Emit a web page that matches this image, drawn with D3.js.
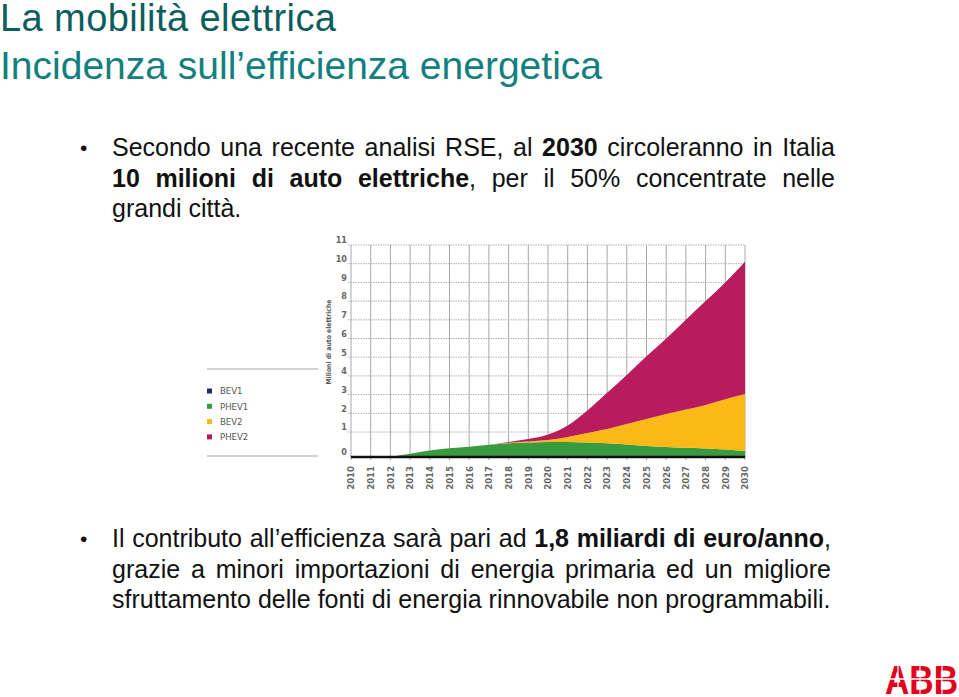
<!DOCTYPE html>
<html>
<head>
<meta charset="utf-8">
<script src="https://cdn.jsdelivr.net/npm/d3@7"></script>
<style>
  body { margin: 0; background: #fff; }
  svg { display: block; }
</style>
</head>
<body>
<div id="slide"></div>
<script>
const years = d3.range(2010, 2031);
const seriesNames = ["BEV1", "PHEV1", "BEV2", "PHEV2"];
const seriesColors = ["#1f2d6e", "#3a9a3f", "#fbb917", "#b81c5c"];

// milioni di auto, per serie (non cumulati)
const bev1 = [0, 0, 0.01, 0.02, 0.02, 0.03, 0.03, 0.03, 0.03, 0.04, 0.04, 0.04, 0.04, 0.04, 0.04, 0.04, 0.04, 0.04, 0.04, 0.04, 0.04];
const phev1 = [0, 0, 0.01, 0.11, 0.24, 0.32, 0.38, 0.46, 0.52, 0.54, 0.56, 0.56, 0.54, 0.51, 0.46, 0.40, 0.36, 0.33, 0.30, 0.26, 0.20];
const bev2 = [0, 0, 0, 0, 0, 0, 0, 0, 0.02, 0.04, 0.08, 0.20, 0.38, 0.61, 0.93, 1.26, 1.56, 1.83, 2.11, 2.45, 2.79];
const phev2 = [0, 0, 0, 0, 0, 0, 0, 0, 0.03, 0.10, 0.22, 0.55, 1.19, 1.94, 2.62, 3.35, 4.04, 4.80, 5.55, 6.25, 7.07];

const yTicks = d3.range(0, 12);
const yTitle = "Milioni di auto elettriche";

const title1 = "La mobilità elettrica";
const title2 = "Incidenza sull\u2019efficienza energetica";

// righe di testo: [parola, grassetto, coda non grassetto]
const bullet1 = [
    [["Secondo", 0], ["una", 0], ["recente", 0], ["analisi", 0], ["RSE,", 0], ["al", 0], ["2030", 1], ["circoleranno", 0], ["in", 0], ["Italia", 0]],
    [["10", 1], ["milioni", 1], ["di", 1], ["auto", 1], ["elettriche", 1, ","], ["per", 0], ["il", 0], ["50%", 0], ["concentrate", 0], ["nelle", 0]],
    [["grandi città.", 0]]
];
const bullet2 = [
    [["Il", 0], ["contributo", 0], ["all\u2019efficienza", 0], ["sarà", 0], ["pari", 0], ["ad", 0], ["1,8", 1], ["miliardi", 1], ["di", 1], ["euro/anno", 1, ","]],
    [["grazie", 0], ["a", 0], ["minori", 0], ["importazioni", 0], ["di", 0], ["energia", 0], ["primaria", 0], ["ed", 0], ["un", 0], ["migliore", 0]],
    [["sfruttamento delle fonti di energia rinnovabile non programmabili.", 0]]
];

const width = 959;
const height = 697;

const svg = d3.select("#slide")
    .append("svg")
    .attr("width", width)
    .attr("height", height);

// titoli
svg.append("text")
    .attr("x", 0).attr("y", 31)
    .attr("font-family", "Liberation Sans, Arial, sans-serif")
    .attr("font-size", "38px")
    .attr("textLength", 336)
    .attr("fill", "#0c5e5e")
    .text(title1);

svg.append("text")
    .attr("x", 0).attr("y", 79)
    .attr("font-family", "Liberation Sans, Arial, sans-serif")
    .attr("font-size", "39px")
    .attr("fill", "#13807f")
    .text(title2);

// testo giustificato
const bodyFont = "Liberation Sans, Arial, sans-serif";
const bodySize = 25;

function wordWidth(word, bold) {
    const t = svg.append("text")
        .attr("font-family", bodyFont)
        .attr("font-size", bodySize + "px")
        .attr("font-weight", bold ? "bold" : "normal")
        .text(word);
    const w = t.node().getComputedTextLength();
    t.remove();
    return w;
}

function drawParagraph(lines, y0, right) {
    svg.append("text")
        .attr("x", 80).attr("y", y0 - 1)
        .attr("font-family", bodyFont)
        .attr("font-size", "21px")
        .attr("fill", "#111")
        .text("\u2022");

    lines.forEach((line, i) => {
        const y = y0 + i * 30.5;
        const widths = line.map(w => wordWidth(w[0], w[1]) + (w[2] ? wordWidth(w[2], 0) : 0));
        const total = d3.sum(widths);
        const justify = line.length > 1 && i < lines.length - 1;
        const gap = justify ? (right - 112 - total) / (line.length - 1) : 0;
        let x = 112;
        line.forEach((w, j) => {
            const t = svg.append("text")
                .attr("x", x).attr("y", y)
                .attr("font-family", bodyFont)
                .attr("font-size", bodySize + "px")
                .attr("fill", "#111");
            t.append("tspan").attr("font-weight", w[1] ? "bold" : "normal").text(w[0]);
            if (w[2]) t.append("tspan").text(w[2]);
            x += widths[j] + gap;
        });
    });
}

drawParagraph(bullet1, 156, 835);
drawParagraph(bullet2, 547, 831);

// grafico
const x = d3.scaleLinear().domain([2010, 2030]).range([351, 745]);
const y = d3.scaleLinear().domain([0, 1, 11]).range([457, 432, 245]);

const tableData = years.map((yr, i) => ({
    year: yr,
    BEV1: bev1[i],
    PHEV1: phev1[i],
    BEV2: bev2[i],
    PHEV2: phev2[i]
}));

const stacked = d3.stack().keys(seriesNames)(tableData);

const chart = svg.append("g");

// griglia orizzontale
chart.selectAll("line.hgrid")
    .data(yTicks.filter(d => d > 0))
    .enter()
    .append("line")
    .attr("class", "hgrid")
    .attr("x1", 348).attr("x2", 745)
    .attr("y1", d => y(d)).attr("y2", d => y(d))
    .attr("stroke", "#9a9a9a")
    .attr("stroke-width", 0.8)
    .attr("stroke-dasharray", "1.5,1");

// griglia verticale
chart.selectAll("line.vgrid")
    .data(years)
    .enter()
    .append("line")
    .attr("class", "vgrid")
    .attr("x1", d => x(d)).attr("x2", d => x(d))
    .attr("y1", y(11)).attr("y2", y(0) + 3)
    .attr("stroke", "#a8a8a8")
    .attr("stroke-width", 1);

const area = d3.area()
    .x(d => x(d.data.year))
    .y0(d => y(d[0]))
    .y1(d => y(d[1]))
    .curve(d3.curveMonotoneX);

chart.selectAll("path.layer")
    .data(stacked)
    .enter()
    .append("path")
    .attr("class", "layer")
    .attr("d", area)
    .attr("fill", (d, i) => seriesColors[i]);

// asse x
chart.append("line")
    .attr("x1", x(2010)).attr("x2", x(2030))
    .attr("y1", y(0)).attr("y2", y(0))
    .attr("stroke", "#111")
    .attr("stroke-width", 2.5);

chart.append("g").selectAll("text")
    .data(years)
    .enter()
    .append("text")
    .attr("transform", d => `translate(${x(d)},466) rotate(-90)`)
    .attr("text-anchor", "end")
    .attr("dy", "0.35em")
    .attr("font-family", "DejaVu Sans Condensed, DejaVu Sans, sans-serif")
    .attr("font-weight", "bold")
    .attr("font-size", "9.5px")
    .attr("fill", "#666")
    .text(d => d);

// asse y
const yAxis = chart.append("g")
    .attr("transform", "translate(351,0)")
    .call(d3.axisLeft(y).tickValues(yTicks).tickSize(0).tickPadding(4));
yAxis.select(".domain").remove();
yAxis.selectAll("text")
    .attr("y", -5)
    .attr("font-family", "DejaVu Sans Condensed, DejaVu Sans, sans-serif")
    .attr("font-weight", "bold")
    .attr("font-size", "9px")
    .attr("fill", "#666");

chart.append("text")
    .attr("transform", "translate(331,342) rotate(-90)")
    .attr("text-anchor", "middle")
    .attr("font-family", "DejaVu Sans Condensed, DejaVu Sans, sans-serif")
    .attr("font-weight", "bold")
    .attr("font-size", "6.8px")
    .attr("fill", "#555")
    .text(yTitle);

// legenda
const legend = chart.append("g");
[369, 456].forEach(ly => {
    legend.append("line")
        .attr("x1", 207).attr("x2", 318)
        .attr("y1", ly).attr("y2", ly)
        .attr("stroke", "#c4c4c4")
        .attr("stroke-width", 1.5);
});

const legendItems = legend.selectAll("g.item")
    .data(seriesNames)
    .enter()
    .append("g")
    .attr("class", "item")
    .attr("transform", (d, i) => `translate(207,${391 + i * 15.3})`);

legendItems.append("rect")
    .attr("x", 0).attr("y", -2.5)
    .attr("width", 5).attr("height", 5)
    .attr("fill", (d, i) => seriesColors[i]);

legendItems.append("text")
    .attr("x", 13)
    .attr("dy", "0.35em")
    .attr("font-family", "DejaVu Sans Condensed, DejaVu Sans, sans-serif")
    .attr("font-size", "9.5px")
    .attr("fill", "#555")
    .text(d => d);

// logo ABB
const logo = svg.append("g");
logo.append("text")
    .attr("x", 885).attr("y", 694)
    .attr("font-family", "Liberation Sans, Arial, sans-serif")
    .attr("font-weight", "bold")
    .attr("font-size", "41px")
    .attr("textLength", 73)
    .attr("lengthAdjust", "spacingAndGlyphs")
    .attr("fill", "#e3001b")
    .text("ABB");
logo.append("line")
    .attr("x1", 880).attr("x2", 959)
    .attr("y1", 679).attr("y2", 679)
    .attr("stroke", "#fff").attr("stroke-width", 1.5);
[898, 920, 942].forEach(lx => {
    logo.append("line")
        .attr("x1", lx).attr("x2", lx)
        .attr("y1", 660).attr("y2", 697)
        .attr("stroke", "#fff").attr("stroke-width", 1.2);
});
</script>
</body>
</html>
